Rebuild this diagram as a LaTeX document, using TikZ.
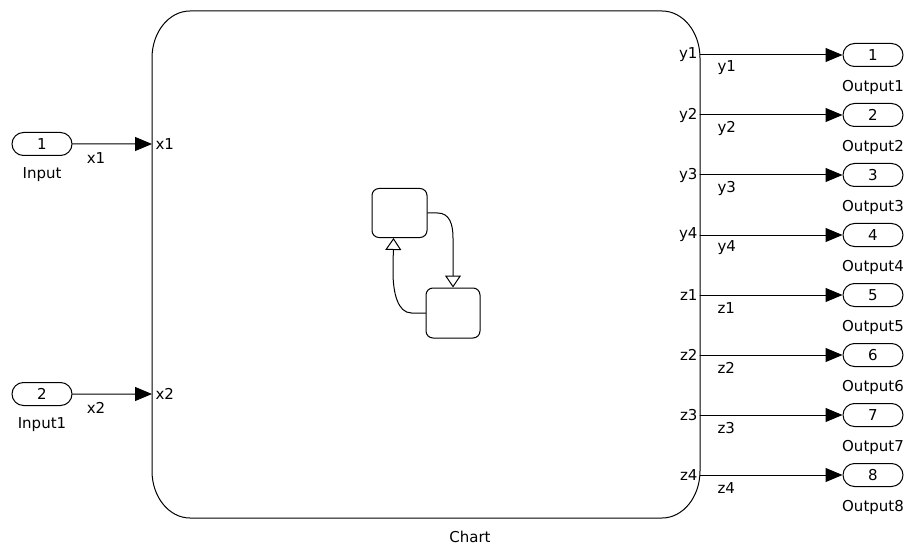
\documentclass[tikz,border=0pt]{standalone}
\usepackage{fontspec}
\setmainfont{DejaVu Sans}
\usetikzlibrary{arrows.meta,positioning,shapes.misc}
\tikzset{
  port/.style={draw, rounded rectangle, minimum width=60pt, minimum height=23pt, inner sep=0pt, font=\fontsize{15}{18}\selectfont},
  lbl/.style={inner sep=1pt, font=\fontsize{15}{18}\selectfont},
  sig/.style={-{Triangle[length=17pt,width=14pt]}},
  trans/.style={-{Triangle[open,length=12pt,width=16pt]}},
  state/.style={draw, rounded corners=7pt, minimum width=55pt, minimum height=49pt, inner sep=0pt}
}
\begin{document}
\begin{tikzpicture}[x=1pt, y=-1pt, line width=1pt, line cap=round]
        \useasboundingbox (0,0) rectangle (918,548);

        % ---- the chart block ----
        \draw (190,11) -- (662,11) .. controls (683,11) and (700,32) .. (700,58)
              -- (700,471) .. controls (700,497) and (683,518) .. (662,518)
              -- (190,518) .. controls (169,518) and (152,497) .. (152,471)
              -- (152,58) .. controls (152,32) and (169,11) .. (190,11) -- cycle;
        \node[lbl] (chartlbl) at (470,537) {Chart};

        % ---- state icon ----
        \node[state] (s1) at (399.5,213) {};
        \node[state, minimum width=54pt, minimum height=50pt] (s2) at (453,313) {};
        \draw[trans] (s1.east) -- ++(10,0) .. controls +(12,0) and +(0,-14) .. (s2.north |- s1.south) -- (s2.north);
        \coordinate (t2) at (393,272);
        \draw[trans] (s2.west) -- ++(-14,0) .. controls +(-14,0) and +(0,20) .. (t2) -- ([xshift=-6pt]s1.south);

        % ---- inputs ----
        \node[port] (in1) at (42,144) {1};
        \node[lbl] (inlbl1) at (42,175) {Input};
        \coordinate (cx1) at (152,144);
        \draw[sig] (in1) -- (cx1);
        \node[lbl] (sx1) at (96,158) {x1};
        \node[lbl, anchor=west] (px1) at (154,144) {x1};

        \node[port] (in2) at (42,394) {2};
        \node[lbl] (inlbl2) at (42,425) {Input1};
        \coordinate (cx2) at (152,394);
        \draw[sig] (in2) -- (cx2);
        \node[lbl] (sx2) at (96,408) {x2};
        \node[lbl, anchor=west] (px2) at (154,394) {x2};

        % ---- outputs ----
        \foreach \nm [count=\i] in {y1,y2,y3,y4,z1,z2,z3,z4} {
          \pgfmathsetmacro{\yy}{55+60*(\i-1)}
          \coordinate (c\i) at (700,\yy);
          \node[port] (out\i) at (873,\yy) {\i};
          \node[lbl] (outlbl\i) at (873,\yy+32) {Output\i};
          \node[lbl, anchor=east] (cin\i) at (699,\yy) {\nm};
          \node[lbl, anchor=west] (sig\i) at (716,\yy+13) {\nm};
          \draw[sig] (c\i) -- (out\i);
        }
    \end{tikzpicture}
\end{document}
